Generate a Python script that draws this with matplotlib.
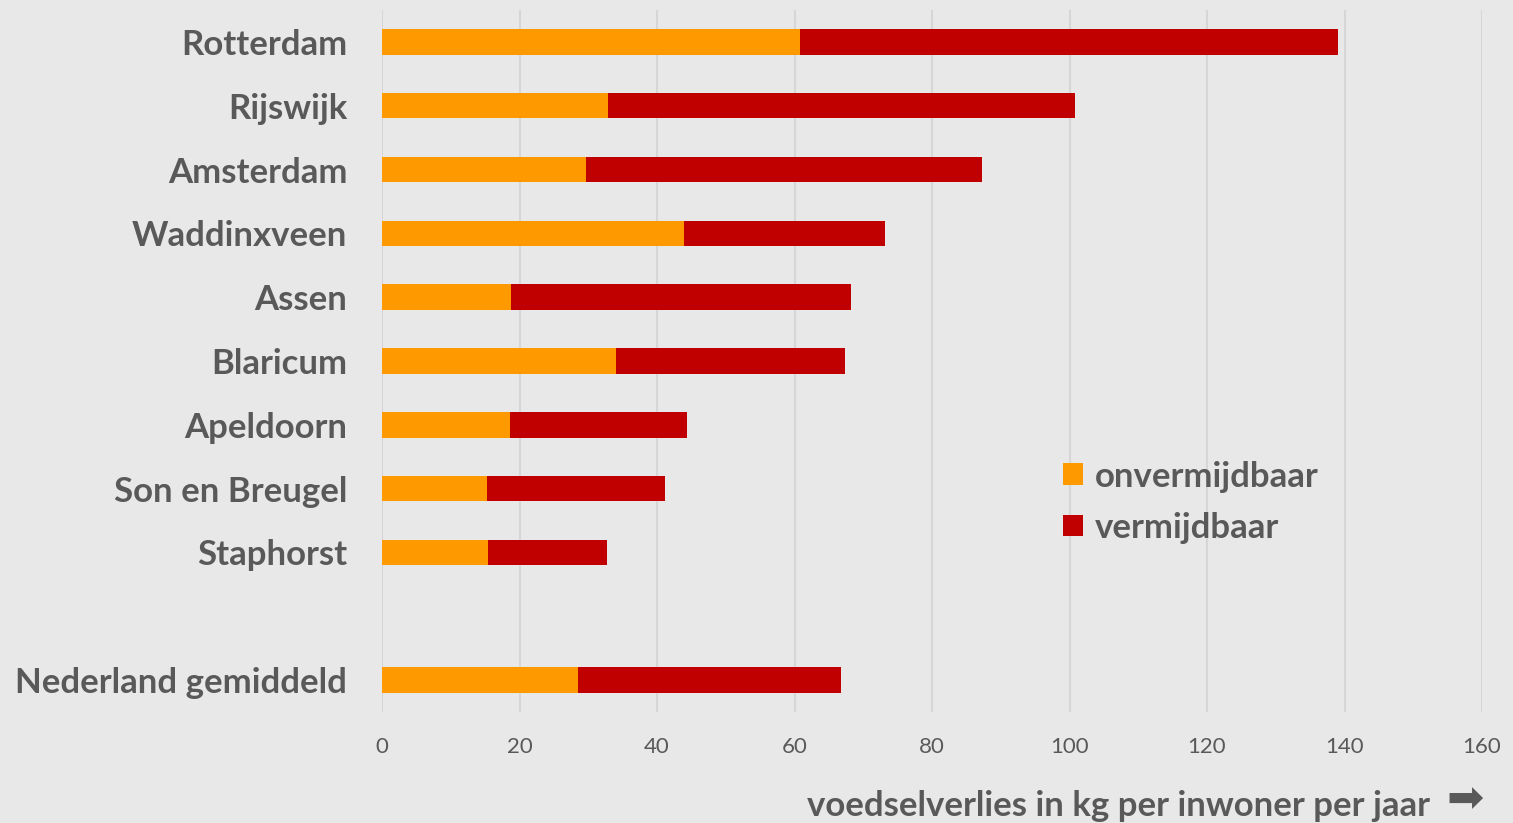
import matplotlib
matplotlib.use("Agg")
import matplotlib.pyplot as plt
from matplotlib.patches import Patch

categories = ["Rotterdam", "Rijswijk", "Amsterdam", "Waddinxveen", "Assen",
              "Blaricum", "Apeldoorn", "Son en Breugel", "Staphorst", "",
              "Nederland gemiddeld"]
onvermijdbaar = [60.8, 32.9, 29.7, 43.9, 18.8, 34.0, 18.6, 15.3, 15.4, None, 28.5]
totaal = [139.0, 100.8, 87.3, 73.2, 68.2, 67.3, 44.4, 41.2, 32.7, None, 66.8]
x_ticks = [0, 20, 40, 60, 80, 100, 120, 140, 160]
series_names = ["onvermijdbaar", "vermijdbaar"]
colors = ["#FF9900", "#C00000"]

txt = "#595959"
bg = "#E8E8E8"
plt.rcParams['font.family'] = ['Lato', 'DejaVu Sans']

W, H = 1513, 823
fig = plt.figure(figsize=(W / 100, H / 100), dpi=100, facecolor=bg)
ax = fig.add_axes([382 / W, 1 - 712 / H, 1100 / W, 702 / H], facecolor=bg)

ys, onv, verm = [], [], []
for i, (a, t) in enumerate(zip(onvermijdbaar, totaal)):
    if a is None:
        continue
    ys.append(i)
    onv.append(a)
    verm.append(t - a)

ax.barh(ys, onv, height=0.4, color=colors[0], zorder=3)
ax.barh(ys, verm, left=onv, height=0.4, color=colors[1], zorder=3)

ax.set_ylim(10.5, -0.5)
ax.set_xlim(0, 160)
ax.set_yticks(range(len(categories)))
ax.set_yticklabels(categories, fontsize=25, fontweight='bold', color=txt)
ax.set_xticks(x_ticks)
ax.set_xticklabels([str(v) for v in x_ticks], fontsize=16, color=txt)
ax.tick_params(axis='both', length=0)
ax.tick_params(axis='y', pad=25)
ax.tick_params(axis='x', pad=18)
for s in ax.spines.values():
    s.set_visible(False)
ax.grid(axis='x', color='#D6D6D6', linewidth=1.5, zorder=0)
ax.grid(axis='y', visible=False)

handles = [Patch(facecolor=c, label=n) for c, n in zip(colors, series_names)]
leg = ax.legend(handles=handles, loc='upper left', bbox_to_anchor=(0.6065, 0.378),
                frameon=False, fontsize=25, handlelength=0.58, handleheight=0.58,
                handletextpad=0.35, labelspacing=0.55, borderaxespad=0)
for t in leg.get_texts():
    t.set_color(txt)
    t.set_fontweight('bold')

fig.text(1430 / W, 1 - 806 / H, "voedselverlies in kg per inwoner per jaar",
         ha='right', va='center', fontsize=25, fontweight='bold', color=txt)
fig.text(1484 / W, 1 - 800 / H, "\u27A1", ha='right', va='center',
         fontsize=32, color=txt, family=['DejaVu Sans'])

fig.savefig("out.png", dpi=100, facecolor=bg)
